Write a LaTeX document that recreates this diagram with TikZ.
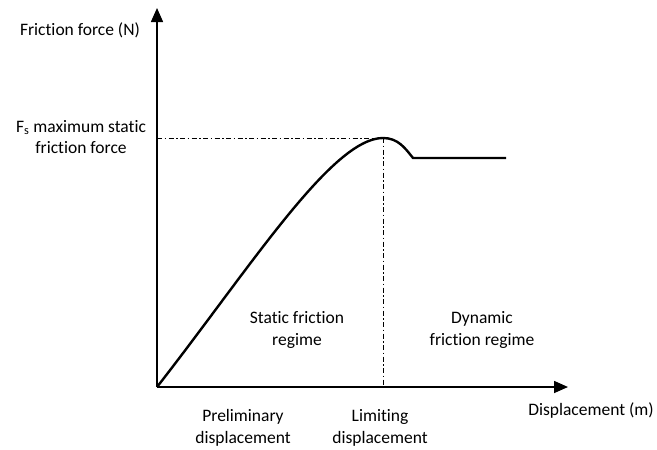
\documentclass[tikz,border=0pt]{standalone}
\usepackage{fontspec}
\setmainfont{Carlito}[Ligatures=NoCommon]
\usetikzlibrary{arrows.meta}
\begin{document}
\begin{tikzpicture}[x=1pt,y=-1pt,
  axis/.style={line width=1.6pt,-{Triangle[length=14pt,width=12pt]}},
  guide/.style={line width=0.9pt,dash pattern=on 5pt off 2.5pt on 1.5pt off 2.5pt},
  curve/.style={line width=2.4pt},
  lbl/.style={font=\fontsize{17.5}{21.5}\selectfont,align=center,inner sep=0pt}]
\useasboundingbox (0,0) rectangle (657,450);
% axes
\coordinate (O) at (157,387);
\coordinate (ytop) at (157,8);
\coordinate (xend) at (568,387);
\draw[axis] (O) -- (ytop);
\draw[axis] (O) -- (xend);
% peak and guide lines
\coordinate (peak) at (383,138);
\coordinate (fs) at (157,138);
\coordinate (lim) at (383,387);
\draw[guide] (fs) -- (peak);
\draw[guide] (peak) -- (lim);
% friction force curve
\coordinate (dip) at (413,158);
\coordinate (cend) at (506,158);
\draw[curve] (O) .. controls (250,268) and (332,138) .. (peak)
  .. controls (398,138) and (405,148) .. (dip) -- (cend);
% labels
\node[lbl] (ylab) at (80,30) {Friction force (N)};
\node[lbl] (fslab) at (81,137) {F\textsubscript{s} maximum static\\friction force};
\node[lbl] (stat) at (297,330) {Static friction\\regime};
\node[lbl] (dyn) at (482,330) {Dynamic\\friction regime};
\node[lbl] (pre) at (243,428) {Preliminary\\displacement};
\node[lbl] (limlab) at (380,428) {Limiting\\displacement};
\node[lbl] (xlab) at (591,411) {Displacement (m)};
\end{tikzpicture}
\end{document}
